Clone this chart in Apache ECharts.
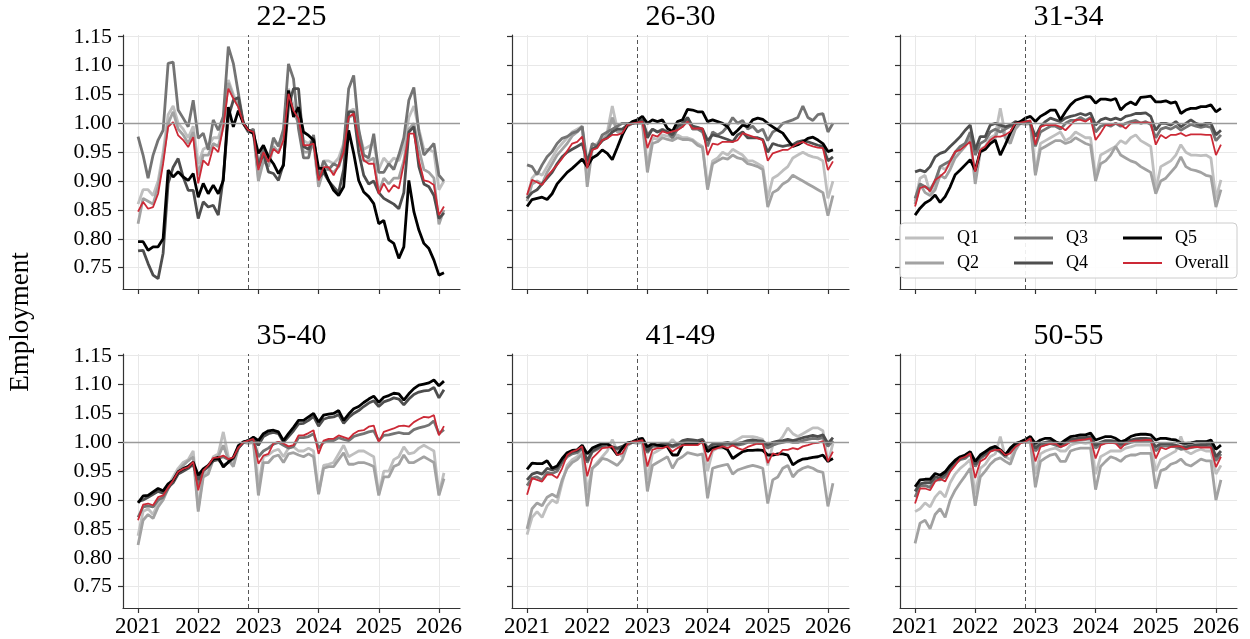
<!DOCTYPE html>
<html><head><meta charset="utf-8">
<script src="https://cdn.jsdelivr.net/npm/echarts@6/dist/echarts.min.js"></script>
<style>html,body{margin:0;padding:0;background:#fff}#c{width:1250px;height:639px}</style>
</head><body><div id="c"></div>
<script>
const months = ['2021-01','2021-02','2021-03','2021-04','2021-05','2021-06','2021-07','2021-08','2021-09','2021-10','2021-11','2021-12',
'2022-01','2022-02','2022-03','2022-04','2022-05','2022-06','2022-07','2022-08','2022-09','2022-10','2022-11','2022-12',
'2023-01','2023-02','2023-03','2023-04','2023-05','2023-06','2023-07','2023-08','2023-09','2023-10','2023-11','2023-12',
'2024-01','2024-02','2024-03','2024-04','2024-05','2024-06','2024-07','2024-08','2024-09','2024-10','2024-11','2024-12',
'2025-01','2025-02','2025-03','2025-04','2025-05','2025-06','2025-07','2025-08','2025-09','2025-10','2025-11','2025-12',
'2026-01','2026-02'];
const panelTitles = ['22-25','26-30','31-34','35-40','41-49','50-55'];
const seriesNames = ['Q1','Q2','Q3','Q4','Q5','Overall'];
const yTicks = [0.75,0.80,0.85,0.90,0.95,1.00,1.05,1.10,1.15];
const xTicks = [2021,2022,2023,2024,2025,2026];
const releaseLine = 2022.83;
const yLabel = 'Employment';

// Panel 1: 22-25
const p1_q1 = [0.860,0.885,0.885,0.875,0.900,0.950,1.015,1.030,1.000,0.990,0.975,0.995,
 0.930,0.955,0.960,0.975,0.975,1.000,1.075,1.050,1.030,1.000,0.985,0.990,
 0.905,0.940,0.935,0.970,0.960,0.985,1.060,1.030,1.010,0.970,0.965,0.975,
 0.905,0.935,0.935,0.930,0.940,0.965,1.020,1.025,0.985,0.955,0.960,0.965,
 0.920,0.940,0.930,0.940,0.935,0.960,1.010,1.030,0.990,0.955,0.955,0.950,
 0.885,0.900];
const p1_q2 = [0.826,0.870,0.865,0.860,0.890,0.940,1.000,1.020,0.990,0.980,0.965,0.985,
 0.910,0.945,0.945,0.965,0.960,0.995,1.070,1.045,1.030,1.000,0.985,0.985,
 0.900,0.935,0.925,0.960,0.950,0.975,1.050,1.020,1.000,0.950,0.950,0.965,
 0.890,0.920,0.920,0.915,0.925,0.950,1.010,1.015,0.975,0.935,0.935,0.940,
 0.880,0.905,0.895,0.905,0.905,0.935,0.990,1.000,0.955,0.920,0.915,0.905,
 0.825,0.850];
const p1_q3 = [0.977,0.945,0.905,0.945,0.971,0.988,1.104,1.106,1.023,1.009,0.994,1.040,
 0.974,0.983,0.954,1.006,0.988,1.012,1.133,1.104,1.052,1.000,0.985,0.990,
 0.925,0.960,0.935,0.975,0.960,0.990,1.103,1.077,0.990,0.940,0.940,0.980,
 0.905,0.935,0.920,0.930,0.925,0.960,1.060,1.083,0.990,0.945,0.940,0.982,
 0.915,0.915,0.930,0.920,0.945,0.975,1.040,1.062,0.985,0.945,0.955,0.965,
 0.910,0.900];
const p1_q4 = [0.779,0.780,0.757,0.737,0.731,0.775,0.896,0.924,0.939,0.907,0.884,0.884,
 0.835,0.864,0.855,0.858,0.841,0.907,1.011,1.040,1.045,1.000,0.988,0.985,
 0.924,0.948,0.916,0.913,0.901,0.930,1.030,1.060,1.060,0.960,0.955,0.975,
 0.905,0.915,0.900,0.890,0.880,0.920,1.020,1.020,0.950,0.910,0.895,0.900,
 0.880,0.870,0.865,0.860,0.852,0.880,0.985,0.994,0.925,0.895,0.890,0.875,
 0.835,0.845];
const p1_q5 = [0.795,0.795,0.780,0.786,0.786,0.800,0.919,0.907,0.916,0.907,0.901,0.913,
 0.872,0.896,0.878,0.893,0.878,0.901,1.028,0.994,1.022,1.000,0.988,0.982,
 0.948,0.962,0.942,0.930,0.913,0.927,1.057,1.011,1.028,0.985,0.979,0.971,
 0.922,0.922,0.901,0.884,0.875,0.890,0.988,0.948,0.901,0.881,0.873,0.861,
 0.826,0.832,0.798,0.792,0.766,0.786,0.901,0.847,0.815,0.792,0.783,0.763,
 0.737,0.741];
const p1_all = [0.847,0.864,0.852,0.855,0.878,0.930,0.994,1.002,0.979,0.971,0.959,0.976,
 0.896,0.936,0.927,0.959,0.950,0.994,1.060,1.043,1.028,1.000,0.988,0.985,
 0.919,0.950,0.933,0.956,0.948,0.971,1.051,1.022,1.008,0.962,0.962,0.965,
 0.901,0.924,0.924,0.910,0.927,0.950,1.011,1.017,0.971,0.936,0.930,0.930,
 0.878,0.896,0.881,0.893,0.887,0.930,0.982,0.982,0.936,0.901,0.899,0.893,
 0.841,0.856];

// Panel 2: 26-30
const p2_q1 = [0.870,0.905,0.915,0.910,0.925,0.940,0.955,0.965,0.975,0.985,0.990,0.995,
 0.900,0.960,0.965,0.975,0.985,1.030,0.990,0.985,0.995,1.000,1.000,1.003,
 0.925,0.975,0.972,0.980,0.978,0.975,0.980,0.975,0.975,0.972,0.965,0.960,
 0.890,0.935,0.940,0.950,0.945,0.955,0.950,0.945,0.935,0.935,0.930,0.925,
 0.870,0.905,0.910,0.918,0.925,0.940,0.945,0.950,0.945,0.942,0.940,0.935,
 0.870,0.900];
const p2_q2 = [0.865,0.895,0.900,0.895,0.915,0.930,0.945,0.955,0.965,0.978,0.985,0.995,
 0.890,0.955,0.960,0.970,0.980,1.010,0.985,0.985,0.995,1.000,1.000,1.000,
 0.915,0.965,0.968,0.975,0.972,0.970,0.975,0.972,0.972,0.970,0.962,0.958,
 0.885,0.930,0.935,0.940,0.938,0.945,0.940,0.938,0.930,0.928,0.925,0.920,
 0.855,0.880,0.885,0.895,0.900,0.910,0.905,0.900,0.895,0.890,0.885,0.880,
 0.840,0.875];
const p2_q3 = [0.928,0.925,0.911,0.928,0.942,0.951,0.965,0.974,0.977,0.983,0.986,0.994,
 0.930,0.965,0.960,0.980,0.985,0.990,0.995,1.000,1.000,1.000,1.003,1.006,
 0.980,0.990,0.985,0.990,0.985,0.975,0.990,0.995,1.010,0.990,0.990,0.985,
 0.960,0.985,0.980,0.985,0.995,1.010,1.000,1.005,0.990,0.995,0.985,0.990,
 0.970,0.985,0.990,1.000,1.003,1.006,1.010,1.030,1.010,1.005,1.015,1.017,
 0.985,1.000];
const p2_q4 = [0.870,0.880,0.885,0.895,0.905,0.915,0.930,0.942,0.950,0.955,0.960,0.965,
 0.935,0.955,0.960,0.970,0.975,0.985,0.990,0.990,0.997,1.000,1.003,1.005,
 0.975,0.990,0.985,0.988,0.985,0.980,0.995,1.000,1.010,0.995,0.993,0.990,
 0.970,0.980,0.978,0.975,0.972,0.968,0.980,0.985,0.975,0.975,0.975,0.972,
 0.950,0.965,0.962,0.960,0.962,0.963,0.968,0.970,0.968,0.965,0.962,0.960,
 0.935,0.942];
const p2_q5 = [0.856,0.868,0.870,0.872,0.868,0.878,0.895,0.905,0.915,0.922,0.930,0.938,
 0.925,0.940,0.945,0.954,0.948,0.937,0.958,0.980,0.997,1.003,1.006,1.012,
 1.000,1.006,1.003,1.006,0.991,0.986,1.003,1.006,1.024,1.023,1.020,1.020,
 1.003,1.006,1.003,1.000,0.994,0.980,0.988,0.997,0.994,1.006,1.009,1.007,
 1.000,0.994,0.988,0.983,0.971,0.960,0.963,0.968,0.974,0.976,0.971,0.965,
 0.951,0.954];
const p2_all = [0.876,0.902,0.898,0.893,0.908,0.918,0.928,0.939,0.952,0.965,0.968,0.977,
 0.922,0.954,0.957,0.971,0.974,0.980,0.980,0.983,0.997,1.000,1.001,1.003,
 0.957,0.980,0.977,0.986,0.983,0.986,0.988,0.994,1.003,0.991,0.991,0.991,
 0.945,0.965,0.963,0.968,0.968,0.968,0.971,0.983,0.980,0.977,0.974,0.971,
 0.935,0.948,0.951,0.954,0.954,0.960,0.965,0.968,0.963,0.960,0.958,0.957,
 0.919,0.934];

// Panel 3: 31-34
const p3_q1 = [0.865,0.905,0.910,0.880,0.895,0.925,0.920,0.930,0.950,0.955,0.965,0.975,
 0.905,0.955,0.960,0.975,0.980,1.026,0.980,0.970,0.995,1.000,1.000,1.003,
 0.913,0.965,0.970,0.975,0.980,0.985,0.970,0.975,0.985,0.980,0.975,0.975,
 0.905,0.945,0.950,0.955,0.960,0.970,0.965,0.975,0.980,0.970,0.965,0.960,
 0.885,0.925,0.930,0.935,0.945,0.963,0.950,0.945,0.945,0.944,0.945,0.940,
 0.870,0.902];
const p3_q2 = [0.860,0.895,0.880,0.875,0.885,0.910,0.905,0.920,0.940,0.950,0.960,0.975,
 0.895,0.950,0.955,0.970,0.975,1.000,0.975,0.965,0.990,1.000,0.998,1.000,
 0.910,0.955,0.960,0.965,0.970,0.970,0.965,0.968,0.975,0.970,0.965,0.962,
 0.900,0.930,0.935,0.945,0.960,0.945,0.940,0.935,0.932,0.925,0.920,0.915,
 0.878,0.900,0.905,0.915,0.925,0.942,0.925,0.920,0.918,0.915,0.910,0.908,
 0.855,0.885];
const p3_q3 = [0.870,0.895,0.890,0.885,0.900,0.925,0.930,0.935,0.950,0.960,0.965,0.985,
 0.945,0.965,0.970,0.985,0.990,0.985,0.990,0.995,1.000,1.000,1.003,1.000,
 0.960,0.985,0.990,0.995,0.995,0.990,1.000,1.005,1.005,1.010,1.005,1.010,
 0.985,0.995,0.998,0.995,1.000,0.995,1.000,1.003,1.005,1.000,1.003,0.998,
 0.975,0.990,0.993,0.990,0.995,0.988,0.993,0.998,0.995,0.993,0.995,0.993,
 0.970,0.980];
const p3_q4 = [0.916,0.919,0.916,0.925,0.942,0.948,0.951,0.960,0.968,0.977,0.988,0.997,
 0.954,0.977,0.977,0.997,1.000,0.997,0.994,0.997,1.003,1.000,1.005,1.000,
 0.977,0.994,1.003,1.009,1.006,1.003,1.009,1.012,1.014,1.017,1.014,1.018,
 0.997,1.006,1.009,1.006,1.009,1.006,1.012,1.014,1.017,1.017,1.018,1.012,
 0.988,1.000,1.000,0.997,1.003,0.994,1.000,1.006,1.000,0.997,1.000,1.000,
 0.980,0.988];
const p3_q5 = [0.841,0.853,0.862,0.867,0.876,0.863,0.873,0.890,0.911,0.919,0.928,0.937,
 0.919,0.951,0.955,0.965,0.971,0.945,0.963,0.983,1.000,1.003,1.009,1.012,
 1.003,1.012,1.017,1.023,1.023,1.006,1.020,1.032,1.040,1.043,1.046,1.046,
 1.035,1.042,1.042,1.040,1.043,1.023,1.032,1.037,1.032,1.045,1.046,1.047,
 1.037,1.037,1.039,1.035,1.037,1.017,1.023,1.026,1.026,1.029,1.029,1.032,
 1.020,1.026];
const p3_all = [0.856,0.888,0.891,0.882,0.902,0.908,0.916,0.934,0.951,0.954,0.961,0.968,
 0.916,0.954,0.960,0.971,0.977,0.977,0.980,0.986,1.000,1.001,1.003,1.005,
 0.963,0.994,0.997,0.997,0.997,0.994,0.988,0.997,1.006,1.006,1.003,1.009,
 0.971,0.983,0.997,0.997,1.000,0.997,0.991,1.000,1.001,1.001,1.001,1.001,
 0.963,0.980,0.974,0.980,0.980,0.983,0.978,0.981,0.981,0.981,0.980,0.980,
 0.945,0.963];

// Panel 4: 35-40
const p4_q1 = [0.838,0.880,0.885,0.875,0.895,0.905,0.925,0.940,0.955,0.965,0.970,0.985,
 0.885,0.945,0.950,0.975,0.980,1.018,0.975,0.960,0.995,1.000,1.000,1.003,
 0.925,0.975,0.978,0.985,0.988,0.975,0.990,0.992,0.985,0.985,0.990,0.985,
 0.912,0.960,0.962,0.965,0.980,0.995,0.975,0.980,0.985,0.985,0.980,0.975,
 0.910,0.950,0.950,0.970,0.975,0.992,0.980,0.982,0.990,0.995,0.990,0.985,
 0.910,0.947];
const p4_q2 = [0.822,0.865,0.875,0.868,0.888,0.900,0.920,0.935,0.950,0.960,0.968,0.975,
 0.880,0.940,0.945,0.970,0.975,0.995,0.970,0.958,0.990,1.000,0.998,1.000,
 0.908,0.965,0.965,0.975,0.978,0.965,0.980,0.982,0.978,0.975,0.980,0.975,
 0.910,0.955,0.958,0.958,0.970,0.982,0.962,0.962,0.965,0.965,0.962,0.958,
 0.908,0.940,0.940,0.958,0.962,0.978,0.965,0.965,0.970,0.975,0.970,0.965,
 0.908,0.937];
const p4_q3 = [0.870,0.888,0.890,0.888,0.900,0.905,0.920,0.935,0.948,0.955,0.958,0.965,
 0.925,0.950,0.958,0.970,0.972,0.975,0.970,0.972,0.990,1.000,1.003,1.005,
 0.975,0.985,0.990,0.997,1.000,0.995,0.990,0.993,1.008,1.008,1.010,1.015,
 0.990,1.000,1.003,1.003,1.008,1.005,1.003,1.010,1.013,1.015,1.018,1.020,
 1.003,1.012,1.013,1.015,1.017,1.015,1.015,1.022,1.025,1.027,1.030,1.037,
 1.015,1.022];
const p4_q4 = [0.897,0.900,0.905,0.910,0.915,0.912,0.922,0.930,0.945,0.950,0.955,0.962,
 0.935,0.952,0.958,0.968,0.970,0.960,0.965,0.972,0.990,1.000,1.003,1.006,
 0.995,1.010,1.015,1.017,1.015,1.000,1.010,1.020,1.032,1.033,1.038,1.045,
 1.028,1.040,1.043,1.044,1.048,1.033,1.043,1.050,1.055,1.062,1.068,1.072,
 1.062,1.070,1.073,1.077,1.075,1.065,1.075,1.083,1.087,1.089,1.090,1.095,
 1.077,1.091];
const p4_q5 = [0.895,0.907,0.908,0.914,0.920,0.916,0.928,0.934,0.949,0.954,0.958,0.966,
 0.943,0.954,0.960,0.971,0.974,0.957,0.966,0.974,0.994,1.001,1.003,1.009,
 1.003,1.015,1.020,1.021,1.018,1.003,1.015,1.026,1.038,1.038,1.044,1.050,
 1.035,1.047,1.049,1.050,1.055,1.038,1.049,1.058,1.062,1.069,1.075,1.080,
 1.069,1.078,1.081,1.085,1.084,1.073,1.084,1.093,1.099,1.101,1.103,1.108,
 1.098,1.106];
const p4_all = [0.865,0.892,0.894,0.891,0.905,0.908,0.922,0.934,0.949,0.954,0.957,0.966,
 0.917,0.951,0.960,0.973,0.974,0.977,0.971,0.974,0.991,1.000,1.003,1.006,
 0.963,0.977,0.980,0.998,1.001,0.998,0.993,0.995,1.012,1.012,1.016,1.021,
 0.980,1.003,1.006,1.006,1.012,1.009,1.006,1.015,1.020,1.021,1.027,1.029,
 1.000,1.018,1.021,1.024,1.028,1.029,1.027,1.035,1.040,1.044,1.043,1.047,
 1.012,1.028];

// Panel 5: 41-49
const p5_q1 = [0.840,0.870,0.880,0.870,0.890,0.900,0.895,0.930,0.960,0.970,0.975,0.985,
 0.915,0.955,0.965,0.975,0.985,1.005,0.985,0.975,0.995,1.000,1.000,1.003,
 0.935,0.980,0.985,0.990,0.995,1.005,0.995,0.998,1.003,1.000,1.000,1.003,
 0.950,0.985,0.990,0.990,0.995,1.000,1.005,1.010,1.010,1.010,1.008,1.005,
 0.960,0.995,1.000,1.010,1.025,1.015,1.010,1.015,1.020,1.025,1.025,1.020,
 0.965,0.998];
const p5_q2 = [0.850,0.885,0.895,0.890,0.905,0.910,0.905,0.935,0.955,0.965,0.970,0.980,
 0.889,0.955,0.962,0.972,0.970,0.965,0.960,0.970,0.995,1.000,0.998,1.000,
 0.915,0.960,0.965,0.970,0.975,0.955,0.970,0.975,0.982,0.980,0.978,0.980,
 0.903,0.955,0.958,0.960,0.962,0.945,0.952,0.955,0.958,0.960,0.958,0.955,
 0.894,0.935,0.940,0.955,0.960,0.940,0.950,0.955,0.958,0.955,0.950,0.948,
 0.889,0.929];
const p5_q3 = [0.925,0.938,0.940,0.935,0.948,0.946,0.950,0.965,0.975,0.980,0.982,0.990,
 0.965,0.983,0.988,0.993,0.995,0.990,0.988,0.990,0.997,1.000,1.002,1.003,
 0.982,0.993,0.993,0.995,0.995,0.992,0.995,1.000,1.003,1.002,1.001,1.003,
 0.985,0.993,0.995,0.995,0.997,0.995,0.995,0.997,1.000,1.000,0.998,0.998,
 0.990,0.995,0.998,1.000,1.002,1.000,1.000,1.003,1.005,1.007,1.006,1.008,
 0.993,1.003];
const p5_q4 = [0.935,0.945,0.948,0.945,0.955,0.952,0.955,0.968,0.978,0.983,0.985,0.992,
 0.968,0.985,0.990,0.995,0.997,0.992,0.990,0.993,0.998,1.000,1.003,1.004,
 0.985,0.995,0.995,0.997,0.997,0.994,0.997,1.003,1.005,1.004,1.003,1.005,
 0.990,0.997,0.998,0.998,1.000,0.997,0.998,1.000,1.003,1.004,1.003,1.002,
 0.995,1.000,1.002,1.003,1.005,1.003,1.005,1.008,1.010,1.012,1.010,1.013,
 0.998,1.008];
const p5_q5 = [0.953,0.964,0.963,0.963,0.968,0.955,0.959,0.972,0.982,0.986,0.987,0.995,
 0.980,0.990,0.994,0.998,0.998,0.990,0.978,0.990,0.999,1.001,1.005,1.007,
 0.992,0.998,0.995,0.994,0.992,0.978,0.978,0.995,0.998,0.998,0.998,1.001,
 0.984,0.990,0.992,0.992,0.987,0.972,0.978,0.984,0.986,0.986,0.987,0.986,
 0.978,0.978,0.980,0.980,0.978,0.961,0.967,0.971,0.972,0.974,0.975,0.978,
 0.967,0.972];
const p5_all = [0.909,0.938,0.935,0.932,0.944,0.944,0.938,0.955,0.978,0.984,0.987,0.993,
 0.941,0.972,0.981,0.990,0.991,0.993,0.978,0.981,0.997,1.001,1.002,1.004,
 0.958,0.987,0.990,0.990,0.993,0.984,0.990,0.995,0.995,0.995,0.995,1.001,
 0.967,0.987,0.990,0.993,0.990,0.995,0.990,0.987,0.992,0.995,0.998,0.998,
 0.964,0.981,0.978,0.987,0.987,0.990,0.988,0.993,0.995,0.998,0.999,1.002,
 0.967,0.984];

// Panel 6: 50-55
const p6_q1 = [0.880,0.885,0.895,0.888,0.905,0.915,0.905,0.930,0.945,0.955,0.962,0.970,
 0.910,0.955,0.962,0.975,0.980,1.010,0.975,0.970,0.992,1.000,1.002,1.003,
 0.945,0.980,0.985,0.988,0.990,0.985,0.985,0.995,0.998,1.000,0.998,1.000,
 0.945,0.975,0.980,0.985,0.985,0.985,0.990,0.992,0.995,0.995,0.995,0.995,
 0.950,0.970,0.975,0.980,0.985,1.010,0.985,0.980,0.985,0.988,0.985,0.985,
 0.945,0.960];
const p6_q2 = [0.825,0.860,0.865,0.850,0.875,0.885,0.870,0.900,0.917,0.930,0.942,0.955,
 0.890,0.940,0.950,0.962,0.970,0.973,0.967,0.962,0.986,1.000,1.000,1.000,
 0.922,0.967,0.973,0.978,0.980,0.967,0.967,0.985,0.988,0.990,0.990,0.990,
 0.918,0.958,0.967,0.975,0.972,0.967,0.975,0.978,0.978,0.981,0.981,0.981,
 0.920,0.951,0.954,0.962,0.965,0.971,0.962,0.959,0.965,0.971,0.968,0.968,
 0.900,0.935];
const p6_q3 = [0.905,0.925,0.925,0.922,0.935,0.935,0.940,0.953,0.963,0.970,0.972,0.980,
 0.958,0.972,0.978,0.985,0.988,0.983,0.975,0.985,0.995,1.000,1.003,1.006,
 0.985,0.994,0.996,0.998,0.995,0.992,0.997,1.002,1.003,1.005,1.005,1.006,
 0.990,0.997,1.000,1.000,0.999,0.994,0.997,1.000,1.002,1.003,1.003,1.002,
 0.985,0.993,0.994,0.993,0.992,0.988,0.989,0.991,0.992,0.993,0.993,0.995,
 0.968,0.980];
const p6_q4 = [0.915,0.928,0.930,0.930,0.940,0.938,0.945,0.956,0.966,0.972,0.975,0.982,
 0.962,0.975,0.980,0.987,0.990,0.985,0.978,0.988,0.997,1.000,1.004,1.008,
 0.990,0.998,1.000,1.002,0.998,0.995,1.000,1.005,1.006,1.008,1.008,1.010,
 0.995,1.000,1.003,1.003,1.002,0.997,1.000,1.004,1.006,1.007,1.007,1.006,
 0.992,0.998,0.998,0.997,0.995,0.992,0.992,0.994,0.995,0.996,0.996,0.998,
 0.975,0.985];
const p6_q5 = [0.923,0.935,0.936,0.936,0.946,0.943,0.949,0.960,0.969,0.975,0.978,0.984,
 0.967,0.978,0.984,0.990,0.993,0.987,0.978,0.990,0.998,1.001,1.005,1.010,
 0.998,1.004,1.007,1.007,1.001,0.998,1.004,1.010,1.011,1.013,1.013,1.016,
 1.004,1.007,1.010,1.010,1.007,1.001,1.004,1.010,1.013,1.014,1.014,1.013,
 1.004,1.007,1.007,1.005,1.004,0.999,0.998,0.999,1.001,1.001,1.001,1.004,
 0.988,0.995];
const p6_all = [0.894,0.920,0.920,0.917,0.932,0.937,0.932,0.949,0.960,0.972,0.975,0.981,
 0.938,0.967,0.972,0.984,0.987,0.987,0.978,0.981,0.992,0.998,1.001,1.007,
 0.967,0.992,0.995,0.998,0.998,0.992,0.995,1.001,1.003,1.004,1.005,1.007,
 0.972,0.995,0.998,0.999,0.998,0.989,0.998,1.001,1.003,1.003,1.004,1.004,
 0.972,0.991,0.988,0.992,0.993,0.993,0.988,0.991,0.992,0.991,0.991,0.991,
 0.957,0.975];

const panelData = [
  [p1_q1,p1_q2,p1_q3,p1_q4,p1_q5,p1_all],
  [p2_q1,p2_q2,p2_q3,p2_q4,p2_q5,p2_all],
  [p3_q1,p3_q2,p3_q3,p3_q4,p3_q5,p3_all],
  [p4_q1,p4_q2,p4_q3,p4_q4,p4_q5,p4_all],
  [p5_q1,p5_q2,p5_q3,p5_q4,p5_q5,p5_all],
  [p6_q1,p6_q2,p6_q3,p6_q4,p6_q5,p6_all]
];

const FONT = '"Liberation Serif", "Times New Roman", serif';
const colors = ['#bfbfbf','#a2a2a2','#747474','#4e4e4e','#000000','#cc2936'];
const widths = [2.8,2.8,2.8,2.8,2.8,1.8];
const colLeft = [123,512,900], rowTop = [35,354], W = 337, H = 254;
const xMin = 2020.75, xMax = 2026.35, yMin = 0.713, yMax = 1.153;

function monthToYear(m){ const [y,mo] = m.split('-').map(Number); return y + (mo-1)/12; }
const xVals = months.map(monthToYear);

const grid = [], xAxis = [], yAxis = [], series = [], graphic = [];
for (let p = 0; p < 6; p++) {
  const r = Math.floor(p/3), c = p % 3;
  grid.push({left: colLeft[c], top: rowTop[r], width: W, height: H});
  xAxis.push({type:'value', gridIndex:p, min:xMin, max:xMax,
    axisLine:{show:true, onZero:false, lineStyle:{color:'#333', width:1.2}},
    axisTick:{show:true, length:5, customValues:xTicks, lineStyle:{color:'#333', width:1.2}},
    axisLabel:{show: r===1, customValues:xTicks, formatter: v => String(Math.round(v)),
      fontFamily:FONT, fontSize:23, color:'#000', margin:7},
    splitLine:{show:true, lineStyle:{color:'#e8e8e8', width:1}}});
  yAxis.push({type:'value', gridIndex:p, min:yMin, max:yMax,
    axisLine:{show:true, onZero:false, lineStyle:{color:'#333', width:1.2}},
    axisTick:{show:true, length:5, customValues:yTicks, lineStyle:{color:'#333', width:1.2}},
    axisLabel:{show: c===0, customValues:yTicks, formatter: v => v.toFixed(2),
      fontFamily:FONT, fontSize:22, color:'#000', margin:11},
    splitLine:{show:true, lineStyle:{color:'#e8e8e8', width:1}}});
  panelData[p].forEach((arr, k) => {
    const s = {type:'line', name:seriesNames[k], xAxisIndex:p, yAxisIndex:p,
      data: arr.map((v,j) => [xVals[j], v]),
      symbol:'none', showSymbol:false, animation:false, silent:true,
      lineStyle:{color:colors[k], width:widths[k]}, itemStyle:{color:colors[k]}};
    if (k === 0) {
      s.markLine = {silent:true, symbol:['none','none'], label:{show:false}, animation:false,
        data:[{yAxis:1, lineStyle:{color:'#9a9a9a', width:1.3, type:'solid'}},
              {xAxis:releaseLine, lineStyle:{color:'#555', width:1, type:[4,3]}}]};
    }
    series.push(s);
  });
  graphic.push({type:'text', x: colLeft[c] + W/2, y: rowTop[r] - 17.5, z:50,
    style:{text: panelTitles[p], fontFamily:FONT, fontSize:30, fill:'#000', align:'center', verticalAlign:'middle'}});
}
graphic.push({type:'text', x:21, y:322, rotation:Math.PI/2, z:50,
  style:{text:yLabel, fontFamily:FONT, fontSize:27, fill:'#000', align:'center', verticalAlign:'middle'}});
graphic.push({type:'rect', shape:{x:900, y:223, width:337, height:55, r:4}, z:100,
  style:{fill:'rgba(255,255,255,0.9)', stroke:'#cccccc', lineWidth:1}});

const legendPos = [['Q1',905,229,3],['Q3',1014,229,3],['Q5',1123,229,3],['Q2',905,254,3],['Q4',1014,254,3],['Overall',1123,254,2]];
const legend = legendPos.map(([n,x,y,h]) => ({data:[{name:n, icon:'rect'}], left:x, top:y, padding:0, itemWidth:39, itemHeight:h,
  selectedMode:false, z:110, textStyle:{fontFamily:FONT, fontSize:18, color:'#000', padding:[0,0,0,8]}}));

const chart = echarts.init(document.getElementById('c'), null, {renderer:'canvas'});
chart.setOption({animation:false, backgroundColor:'#fff', grid, xAxis, yAxis, series, graphic, legend});
</script></body></html>
